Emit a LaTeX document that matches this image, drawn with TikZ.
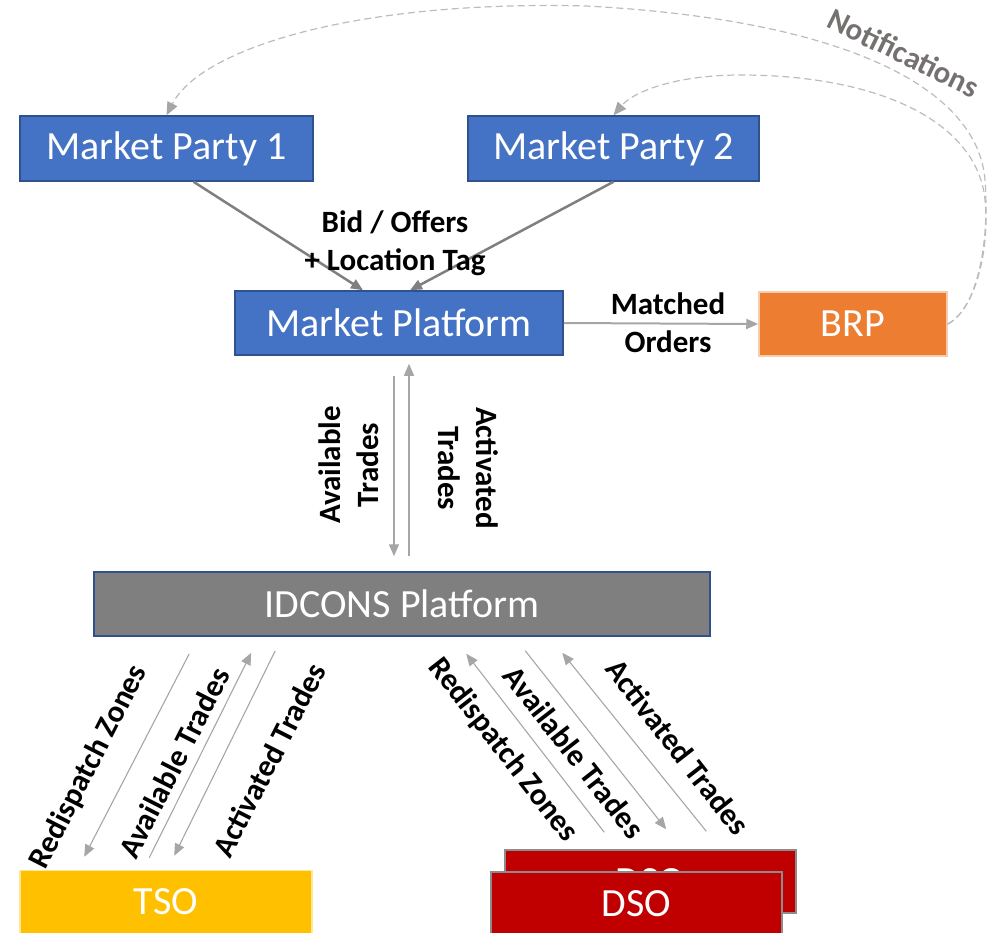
\documentclass[tikz,border=0pt]{standalone}
\usepackage{fontspec}
\setmainfont{Carlito}
\usetikzlibrary{arrows.meta,calc}

\definecolor{partyblue}{HTML}{4472C4}
\definecolor{partyline}{HTML}{2F528F}
\definecolor{brporange}{HTML}{ED7D31}
\definecolor{brpline}{HTML}{F8CBAD}
\definecolor{idcgray}{HTML}{7F7F7F}
\definecolor{tsoyellow}{HTML}{FFC000}
\definecolor{tsoline}{HTML}{FFE699}
\definecolor{dsored}{HTML}{C00000}
\definecolor{dsoline}{HTML}{8C8C8C}
\definecolor{flowgray}{HTML}{A6A6A6}
\definecolor{notegray}{HTML}{767171}

\tikzset{
  box/.style={draw=partyline, line width=1.5pt, fill=partyblue, text=white,
    inner sep=0pt, minimum height=64pt, font=\fontsize{40}{48}\selectfont},
  flow/.style={draw=flowgray, line width=1.1pt, -{Triangle[length=12pt,width=10pt]}},
  lbl/.style={align=center, font=\fontsize{31}{38}\selectfont\bfseries},
  note/.style={draw=flowgray!75, line width=1.2pt, dash pattern=on 7pt off 4pt,
    -{Triangle[length=13pt,width=11pt,fill=flowgray,color=flowgray]}},
}

\begin{document}
\begin{tikzpicture}[x=1pt, y=-1pt]
  \useasboundingbox (0, 0) rectangle (988, 932);

  \node[box, minimum width=293pt, minimum height=65pt] (mp1) at (166.5, 148.5) {Market Party 1};
  \node[box, minimum width=291pt, minimum height=65pt] (mp2) at (613.5, 148.5) {Market Party 2};
  \node[box, minimum width=328pt] (mpf) at (399, 323) {Market Platform};
  \node[box, fill=brporange, draw=brpline, minimum width=188pt] (brp) at (853, 324) {BRP};
  \node[box, fill=idcgray, minimum width=616pt] (idc) at (402, 604) {IDCONS Platform};
  \node[box, fill=tsoyellow, draw=tsoline, minimum width=292pt, minimum height=63pt] (tso) at (166, 902) {TSO};
  \node[box, fill=dsored, draw=dsoline, minimum width=291pt, minimum height=63pt] (dsoback) at (650.5, 881.5) {DSO};
  \node[box, fill=dsored, draw=dsoline, minimum width=291pt, minimum height=63pt] (dso) at (636.5, 903.5) {DSO};

  % bids towards the market platform
  \draw[flow, draw=idcgray, line width=2.5pt] ($(mp1.south)+(27,0)$) -- ($(mpf.north)+(-36,0)$);
  \draw[flow, draw=idcgray, line width=2.5pt] (mp2.south) -- ($(mpf.north)+(11,0)$);
  \node[lbl] (bid) at (395, 243) {Bid / Offers\\+ Location Tag};

  \draw[flow, line width=2pt] (mpf.east) -- (brp.west);
  \node[lbl] (matched) at (668, 323) {Matched\\Orders};

  % notifications back to the parties
  \draw[note] (brp.east) .. controls (975, 310) and (990, 250) .. (985, 180)
    .. controls (978, 90) and (850, 20) .. (586, 6)
    .. controls (350, 0) and (200, 50) .. (mp1.north);
  \draw[note] (brp.east) .. controls (975, 310) and (990, 250) .. (985, 200)
    .. controls (978, 125) and (885, 75) .. (740, 75)
    .. controls (680, 75) and (635, 90) .. (mp2.north);
  \node[lbl, text=notegray, rotate=-26] (notif) at (904, 53) {Notifications};

  % platform to platform
  \draw[flow] ($(mpf.south)+(-5,20)$) -- ($(idc.north)+(-8,-15)$);
  \draw[flow] ($(idc.north)+(7,-15)$) -- ($(mpf.south)+(10,8)$);
  \node[lbl, rotate=90] (avail) at (349, 465) {Available\\Trades};
  \node[lbl, rotate=-90] (activ) at (468, 468) {Activated\\Trades};

  % TSO side
  \draw[flow] ($(idc.south west)+(96,17)$) -- ($(tso.north west)+(65,-13)$);
  \draw[flow] ($(tso.north west)+(130,-12)$) -- ($(idc.south west)+(158,16)$);
  \draw[flow] ($(idc.south west)+(182,14)$) -- ($(tso.north west)+(155,-14)$);
  \node[lbl, rotate=63] (tsozones) at (89, 767) {Redispatch Zones};
  \node[lbl, rotate=63] (tsoavail) at (174, 763) {Available Trades};
  \node[lbl, rotate=63] (tsoactiv) at (269, 760) {Activated Trades};

  % DSO side
  \draw[flow] ($(dso.north west)+(114,-39)$) -- ($(idc.south west)+(373,17)$);
  \draw[flow] ($(idc.south west)+(432,14)$) -- ($(dso.north west)+(176,-42)$);
  \draw[flow] ($(dso.north west)+(216,-40)$) -- ($(idc.south west)+(469,16)$);
  \node[lbl, rotate=-52] (dsozones) at (503, 750) {Redispatch Zones};
  \node[lbl, rotate=-52] (dsoavail) at (574, 752) {Available Trades};
  \node[lbl, rotate=-52] (dsoactiv) at (678, 747) {Activated Trades};
\end{tikzpicture}
\end{document}
